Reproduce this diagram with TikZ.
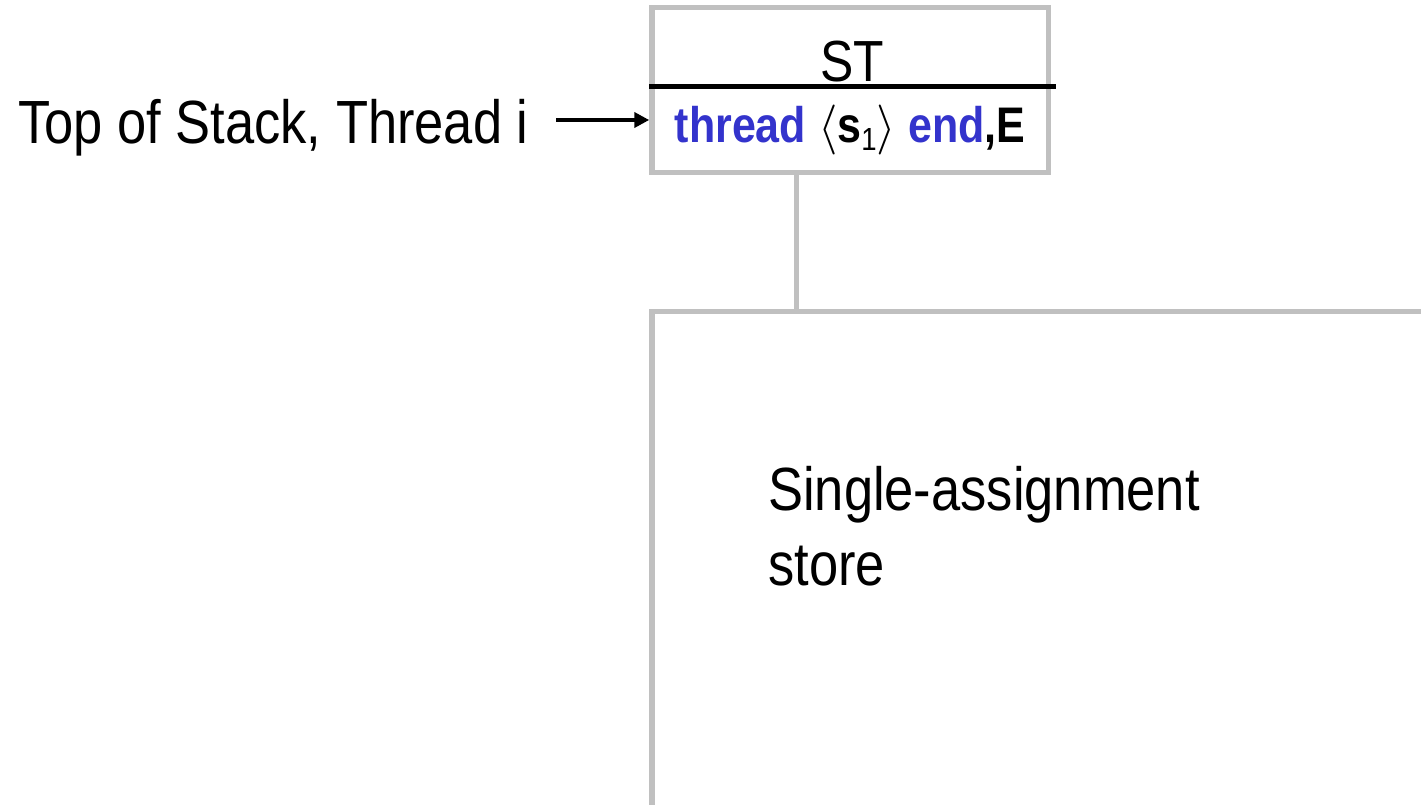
\RequirePackage{fix-cm}
\documentclass[tikz,border=0pt]{standalone}
\usepackage{fontspec}
\newfontfamily\narrowsf[FakeStretch=0.86]{Liberation Sans}
\usetikzlibrary{arrows.meta,positioning}
\definecolor{kernelblue}{RGB}{51,51,204}
\definecolor{framegray}{RGB}{192,192,192}

\begin{document}
\begin{tikzpicture}[
  x=1pt, y=-1pt,
  font=\narrowsf,
  >={Triangle[length=15pt,width=15pt]},
  frame/.style={draw=framegray, line width=5.5pt},
  bigtext/.style={inner sep=0pt, font=\narrowsf\fontsize{61}{75}\selectfont},
  stacktext/.style={inner sep=0pt, font=\narrowsf\bfseries\fontsize{50}{60}\selectfont}
]
\useasboundingbox (0,0) rectangle (1421,805);

% semantic stack of thread i
\node[frame, rectangle, minimum width=396.5pt, minimum height=165pt, inner sep=0pt] (stack) at (850.25,90) {};
\node[bigtext, anchor=base, font=\narrowsf\fontsize{58}{70}\selectfont] (st) at (852,82) {ST};
\coordinate (divy) at (0,87);
\draw[line width=5pt] (stack.west |- divy) -- ([xshift=4.5pt]stack.east |- divy);
\node[stacktext, anchor=base] (thr) at (850,143)
  {{\color{kernelblue}thread} $\langle$s\raisebox{-8pt}{\mdseries\fontsize{32}{32}\selectfont 1}$\rangle$ {\color{kernelblue}end},E};

% store
\node[minimum width=769pt, minimum height=493.5pt, inner sep=0pt, anchor=north west] (store) at (652,311.5) {};
\draw[frame] (store.south west) -- (store.north west) -- (store.north east);
\node[bigtext, align=left, anchor=base west] (storetext) at (768,585) {Single-assignment\\store};

\coordinate (link) at (796.5,0);
\draw[frame] (stack.south -| link) -- (store.north -| link);

% pointer to the top
\node[bigtext, anchor=base west] (tos) at (18,144) {Top of Stack, Thread i};
\coordinate (tail) at (556,120);
\draw[->, line width=4.5pt] (tail) -- (tail -| stack.west);

\end{tikzpicture}
\end{document}
